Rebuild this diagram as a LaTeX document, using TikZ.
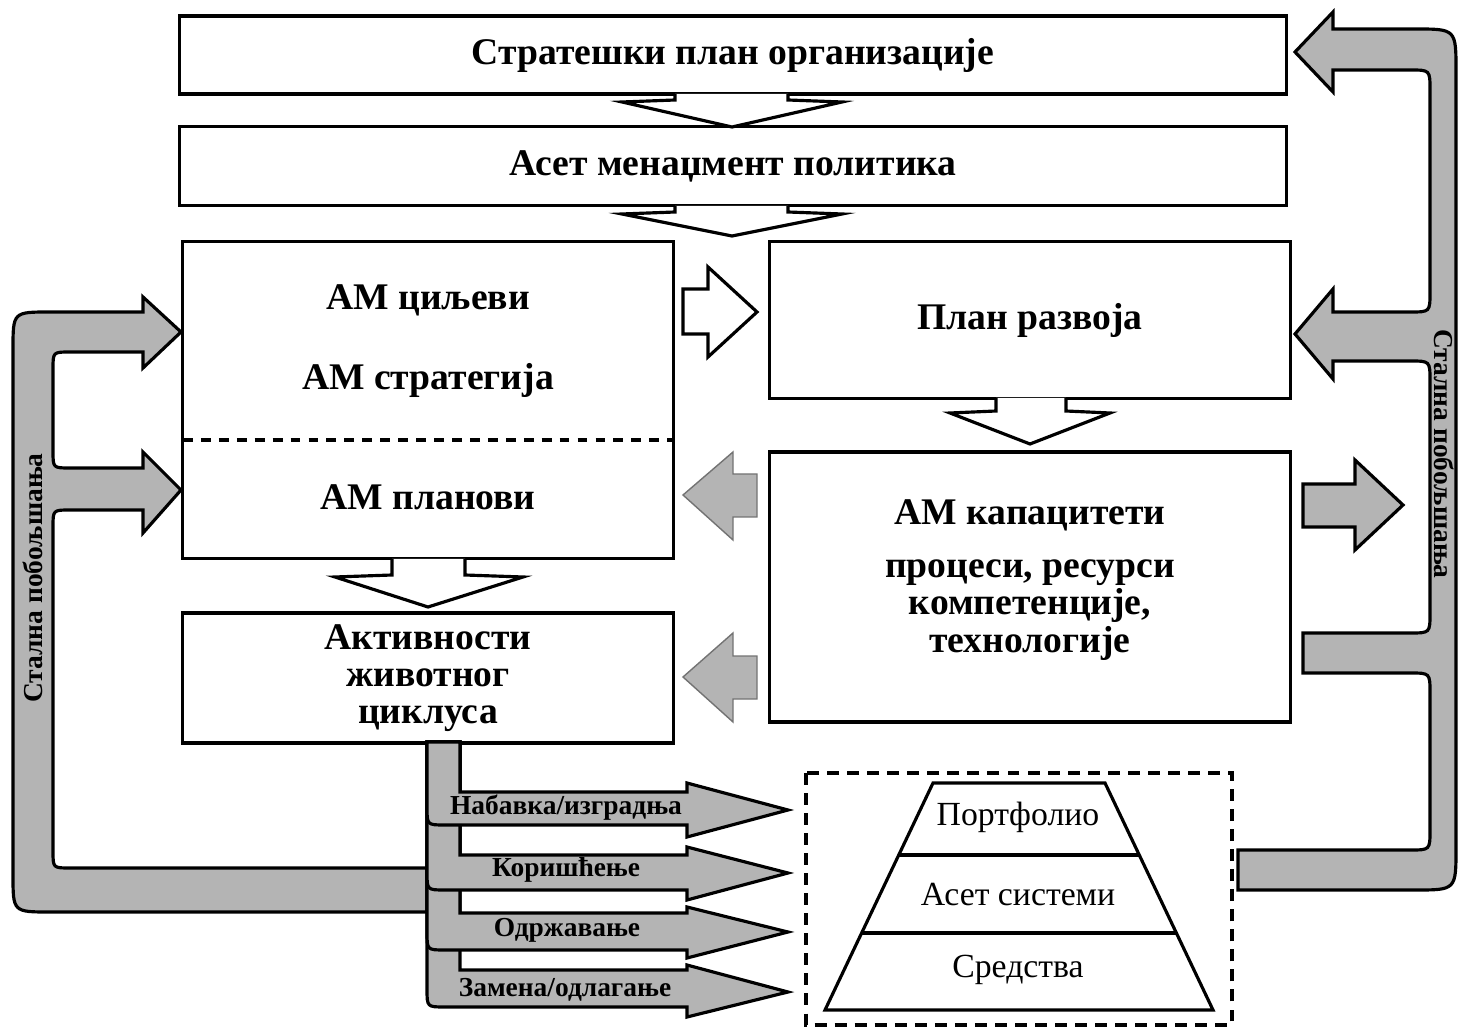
\documentclass[tikz,border=0pt]{standalone}
\usepackage{fontspec}
\setmainfont{Liberation Serif}
\usepackage{tikz}
\usepackage{xcolor}
\definecolor{loopgrey}{RGB}{180,180,180}

\begin{document}
\begin{tikzpicture}[x=0.01cm, y=-0.01cm,
    box/.style={draw, line width=0.9pt, fill=white, inner sep=0pt},
    title/.style={font=\bfseries\fontsize{10.7}{10.6}\selectfont, align=center},
    lbl/.style={font=\bfseries\fontsize{7.8}{9}\selectfont},
    pyr/.style={font=\fontsize{9.6}{10}\selectfont},
    fatarrow/.style={draw, line width=0.9pt, fill=white, line join=miter},
    greyband/.style={draw, line width=0.9pt, fill=loopgrey, line join=miter},
    softarrow/.style={draw=black!55, line width=0.4pt, fill=loopgrey}
]
            \useasboundingbox (0,0) rectangle (1458,1028);

            % continuous improvement loops
            \draw[greyband] (143,312) -- (50,312) .. controls (13,312) .. (13,349) -- (13,875) .. controls (13,912) .. (50,912) -- (427,912) -- (427,868) -- (70,868) .. controls (53,868) .. (53,851) -- (53,527) .. controls (53,510) .. (70,510) -- (143,510) -- (143,533) -- (181,490) -- (143,452) -- (143,468) -- (70,468) .. controls (53,468) .. (53,451) -- (53,369) .. controls (53,352) .. (70,352) -- (143,352) -- (143,368) -- (181,332) -- (143,297) -- cycle;
            \draw[greyband] (1333,29) -- (1415,29) .. controls (1456,29) .. (1456,71) -- (1456,848) .. controls (1456,890) .. (1415,890) -- (1238,890) -- (1238,850) -- (1410,850) .. controls (1430,850) .. (1430,830) -- (1430,693) .. controls (1430,673) .. (1410,673) -- (1303,673) -- (1303,633) -- (1410,633) .. controls (1430,633) .. (1430,613) -- (1430,381) .. controls (1430,361) .. (1410,361) -- (1333,361) -- (1333,379) -- (1295,334) -- (1333,289) -- (1333,312) -- (1410,312) .. controls (1430,312) .. (1430,292) -- (1430,90) .. controls (1430,70) .. (1410,70) -- (1333,70) -- (1333,92) -- (1295,52) -- (1333,12) -- cycle;
            \node[lbl, rotate=90]  (loopleft)  at (33,578)   {Стална побољшања};
            \node[lbl, rotate=-90] (loopright) at (1444,454) {Стална побољшања};

            % boxes
            \node[box, title, minimum width=11.06cm, minimum height=0.78cm] (strat)  at (733,55)   {Стратешки план организације};
            \node[box, title, minimum width=11.06cm, minimum height=0.79cm] (policy) at (733,166)  {Асет менаџмент политика};
            \node[box, minimum width=4.90cm, minimum height=3.17cm]         (goals)  at (428,400)  {};
            \node[box, title, minimum width=4.91cm, minimum height=1.30cm]  (life)   at (428,678)  {Активности\\животног\\циклуса};
            \node[box, title, minimum width=5.20cm, minimum height=1.57cm]  (devel)  at (1030,320) {План развоја};
            \node[box, minimum width=5.20cm, minimum height=2.70cm]         (capab)  at (1030,587) {};

            \node[title] (aims)  at (428,300)  {АМ циљеви};
            \node[title] (strg)  at (428,380)  {АМ стратегија};
            \node[title] (plans) at (428,497)  {АМ планови};
            \draw[line width=0.9pt, dash pattern=on 2.8pt off 2.3pt] (183,440) -- (673,440);

            \node[title] (capt)  at (1030,515) {АМ капацитети};
            \node[title] (capl)  at (1030,610) {процеси, ресурси\\компетенције,\\технологије};

            % block arrows between boxes
            \draw[fatarrow] (675,94) -- (675,100) -- (622,102) -- (732,127) -- (842,102) -- (788,100) -- (788,94);
            \draw[fatarrow] (675,206) -- (675,212) -- (622,214) -- (732,236) -- (842,214) -- (788,212) -- (788,206);
            \draw[fatarrow] (392,559) -- (392,575) -- (335,577) -- (428,607) -- (523,577) -- (465,575) -- (465,559);
            \draw[fatarrow] (996,398) -- (996,411) -- (950,413) -- (1030,444) -- (1110,413) -- (1066,411) -- (1066,398);
            \draw[fatarrow] (683,289) -- (708,289) -- (708,267) -- (757,312) -- (708,357) -- (708,334) -- (683,334) -- cycle;

            \draw[softarrow] (757,474) -- (733,474) -- (733,452) -- (683,495) -- (733,540) -- (733,517) -- (757,517) -- cycle;
            \draw[softarrow] (757,656) -- (733,656) -- (733,633) -- (683,677) -- (733,722) -- (733,699) -- (757,699) -- cycle;
            \draw[greyband] (1303,484) -- (1355,484) -- (1355,460) -- (1403,505) -- (1355,550) -- (1355,527) -- (1303,527) -- cycle;

            % life cycle activities
            \draw[greyband] (460,742) -- (460,970) -- (687,970) -- (687,965) -- (788,992) -- (687,1017) -- (687,1007) -- (445,1007) .. controls (427,1007) .. (427,989) -- (427,742) -- cycle;
            \draw[greyband] (460,742) -- (460,913) -- (687,913) -- (687,907) -- (788,932) -- (687,958) -- (687,950) -- (445,950) .. controls (427,950) .. (427,932) -- (427,742) -- cycle;
            \draw[greyband] (460,742) -- (460,855) -- (687,855) -- (687,847) -- (788,873) -- (687,900) -- (687,890) -- (445,890) .. controls (427,890) .. (427,872) -- (427,742) -- cycle;
            \draw[greyband] (460,742) -- (460,792) -- (687,792) -- (687,783) -- (788,810) -- (687,837) -- (687,825) -- (445,825) .. controls (427,825) .. (427,807) -- (427,742) -- cycle;

            \node[lbl] (buy)     at (566,808) {Набавка/изградња};
            \node[lbl] (use)     at (566,870) {Коришћење};
            \node[lbl] (keep)    at (567,930) {Одржавање};
            \node[lbl] (replace) at (565,990) {Замена/одлагање};

            % asset hierarchy
            \draw[line width=0.9pt, dash pattern=on 3.4pt off 2.3pt] (806,773) rectangle (1232,1025);
            \draw[line width=0.9pt] (933,783) -- (1105,783) -- (1213,1010) -- (825,1010) -- cycle;
            \draw[line width=0.9pt] (899,855) -- (1139,855);
            \draw[line width=1.2pt] (862,933) -- (1176,933);
            \node[pyr] (portf) at (1018,817) {Портфолио};
            \node[pyr] (syst)  at (1018,895) {Асет системи};
            \node[pyr] (means) at (1018,970) {Средства};
            \end{tikzpicture}
\end{document}
